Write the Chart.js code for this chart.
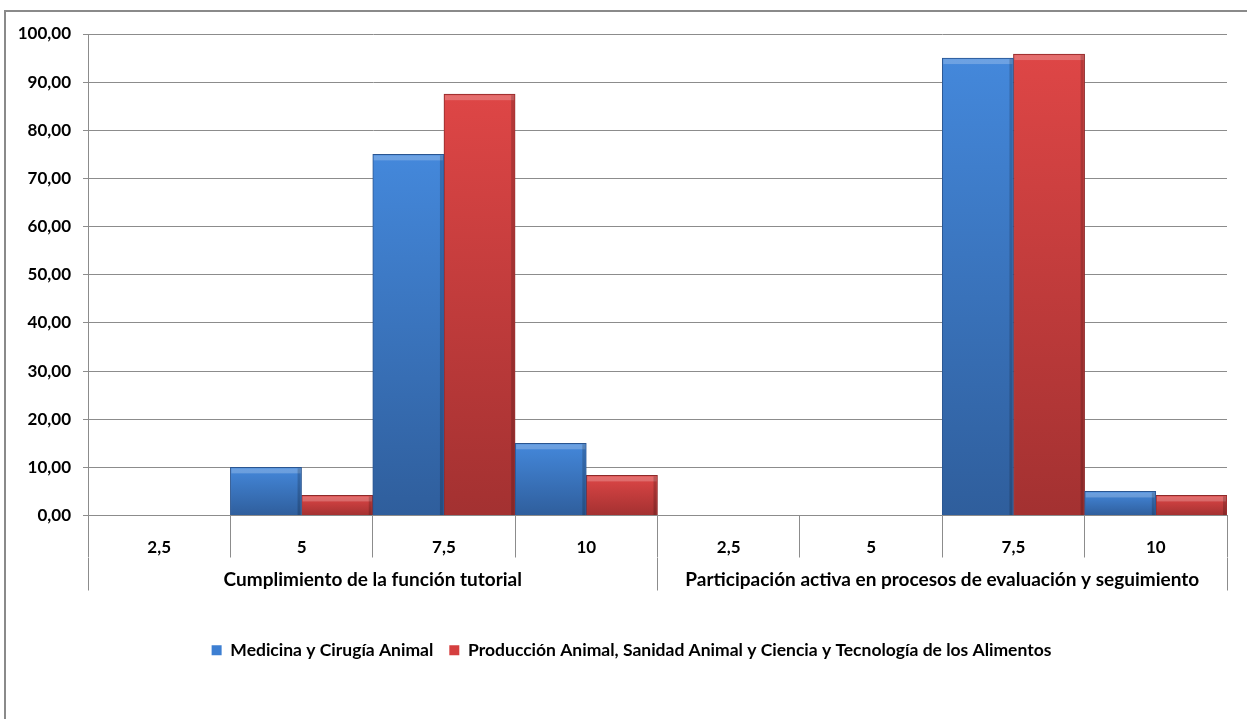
<!DOCTYPE html>
<html>
<head>
<meta charset="utf-8">
<script src="https://cdn.jsdelivr.net/npm/chart.js@4.4.1/dist/chart.umd.min.js"></script>
<style>
  html, body { margin: 0; padding: 0; background: #fff; overflow: hidden; }
  #frame { position: absolute; left: 4px; top: 10px; width: 1300px; height: 800px;
           border-left: 2px solid #8a8a8a; border-top: 2px solid #8a8a8a; }
  #chartBar { position: absolute; left: 0; top: 0; }
</style>
</head>
<body>
<div id="frame"></div>
<canvas id="chartBar" width="1247" height="719"></canvas>
<script>
const categories = ["2,5", "5", "7,5", "10", "2,5", "5", "7,5", "10"];
const groups = [
  "Cumplimiento de la función tutorial",
  "Participación activa en procesos de evaluación y seguimiento",
];
const seriesNames = [
  "Medicina y Cirugía Animal",
  "Producción Animal, Sanidad Animal y Ciencia y Tecnología de los Alimentos",
];
const medicina = [0, 10, 75, 15, 0, 0, 95, 5];
const produccion = [0, 4.17, 87.5, 8.33, 0, 0, 95.83, 4.17];

const gridColor = "#8c8c8c";
const font = (size) => ({ family: "Lato", size: size, weight: "bold" });

// vertical shading per bar, light on top and darker at the base
function barFill(light, dark) {
  return (context) => {
    const chart = context.chart;
    if (!chart.chartArea || context.raw == null) return light;
    const y = chart.scales.y;
    const top = y.getPixelForValue(context.raw);
    const base = y.getPixelForValue(0);
    if (base - top < 1) return "rgba(0,0,0,0)";
    const g = chart.ctx.createLinearGradient(0, top, 0, base);
    g.addColorStop(0, light);
    g.addColorStop(1, dark);
    return g;
  };
}

const solid = ["#3d7fd2", "#d53f3f"];

// light bevel on top, darker edge on the right of each bar
const bevel = {
  id: "bevel",
  afterDatasetsDraw(chart) {
    const ctx = chart.ctx;
    ctx.save();
    chart.data.datasets.forEach((ds, i) => {
      chart.getDatasetMeta(i).data.forEach((bar) => {
        const { x, y, base, width } = bar.getProps(["x", "y", "base", "width"], true);
        const h = base - y;
        if (h < 2) return;
        const left = x - width / 2;
        const b = Math.min(5, h / 3);
        ctx.fillStyle = "rgba(255,255,255,0.22)";
        ctx.fillRect(left + 1, y + 1, width - 2, b);
        ctx.fillStyle = "rgba(0,0,0,0.18)";
        ctx.fillRect(left + width - 4, y + 1, 3, h - 1);
      });
    });
    ctx.restore();
  },
};

const chartBar = document.getElementById("chartBar");

new Chart(chartBar, {
  type: "bar",
  data: {
    labels: categories,
    datasets: [
      {
        label: seriesNames[0],
        data: medicina,
        backgroundColor: barFill("#4488db", "#2f5e9c"),
        borderColor: "#2a5590",
        borderWidth: (c) => (c.raw > 0 ? 1 : 0),
      },
      {
        label: seriesNames[1],
        data: produccion,
        backgroundColor: barFill("#de4646", "#a33131"),
        borderColor: "#8e2a2a",
        borderWidth: (c) => (c.raw > 0 ? 1 : 0),
      },
    ],
  },
  plugins: [bevel],
  options: {
    responsive: false,
    animation: false,
    barPercentage: 1,
    categoryPercentage: 1,
    layout: {
      padding: { top: 34, right: 0, bottom: 50, left: 16 },
    },
    scales: {
      x: {
        offset: true,
        grid: {
          offset: true,
          drawOnChartArea: false,
          color: gridColor,
          tickLength: 42,
        },
        border: { color: gridColor },
        ticks: {
          autoSkip: false,
          maxRotation: 0,
          padding: -20,
          color: "#000",
          font: font(17),
        },
        afterFit: (scale) => {
          scale.height = 42;
        },
      },
      x2: {
        type: "category",
        position: "bottom",
        weight: 1,
        labels: groups,
        offset: true,
        grid: {
          offset: true,
          drawOnChartArea: false,
          color: gridColor,
          tickLength: 33,
        },
        border: { display: false },
        ticks: {
          autoSkip: false,
          maxRotation: 0,
          padding: -22,
          color: "#000",
          font: font(19),
        },
        afterFit: (scale) => {
          scale.height = 68;
        },
      },
      y: {
        min: 0,
        max: 100,
        grid: { color: gridColor, tickLength: 5 },
        border: { color: gridColor },
        ticks: {
          stepSize: 10,
          padding: 12,
          color: "#000",
          font: font(17),
          callback: (v) => v.toFixed(2).replace(".", ","),
        },
        afterFit: (scale) => {
          scale.width = 72;
        },
      },
      // empty strip on the right so the plot ends at the same place
      yRight: {
        position: "right",
        grid: { display: false },
        border: { display: false },
        ticks: { display: false },
        afterFit: (scale) => {
          scale.width = 20;
        },
      },
    },
    plugins: {
      legend: {
        position: "bottom",
        labels: {
          boxWidth: 10,
          boxHeight: 10,
          padding: 16,
          color: "#000",
          font: font(17.5),
          generateLabels: (chart) =>
            Chart.defaults.plugins.legend.labels
              .generateLabels(chart)
              .map((item, i) => ({
                ...item,
                fillStyle: solid[i],
                strokeStyle: solid[i],
                lineWidth: 0,
              })),
        },
      },
      tooltip: { enabled: false },
    },
  },
});
</script>
</body>
</html>
